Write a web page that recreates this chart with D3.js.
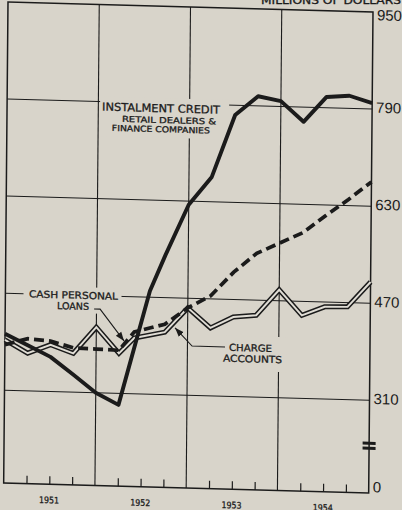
<!DOCTYPE html>
<html>
<head>
<meta charset="utf-8">
<script src="https://cdn.jsdelivr.net/npm/d3@7"></script>
<style>
  html, body { margin: 0; padding: 0; background: #d8d4ca; }
  svg { display: block; }
</style>
</head>
<body>
<svg></svg>
<script>
// x is counted in months from the start of 1951
let yearLabels = ['1951', '1952', '1953', '1954']
let yearLines = [12, 24, 36]
let quarterTicks = [3, 6, 9, 15, 18, 21, 27, 30, 33, 39, 42, 45]
let yTickValues = [950, 790, 630, 470, 310]
let axisFloor = 157   // bottom of the broken scale, printed as 0
let breakValue = 235  // where the "=" break mark sits

let instalmentMonths = [0, 3, 6, 9, 12, 15, 19, 21, 24, 27, 30, 33, 36, 39, 42, 45, 48]
let instalmentValues = [403, 385, 367, 339, 310, 291, 480, 540, 624, 671, 774, 806, 799, 766, 808, 811, 800]

let cashMonths = [0, 3, 6, 9, 12, 15, 17, 21, 24, 27, 30, 33, 36, 39, 42, 45, 48]
let cashValues = [385, 396, 393, 383, 382, 381, 412, 426, 454, 475, 515, 547, 565, 583, 612, 640, 670]

let chargeMonths = [0, 3, 6, 9, 12, 15, 17, 21, 24, 27, 30, 33, 36, 39, 42, 45, 48]
let chargeValues = [393, 372, 387, 374, 418, 376, 402, 413, 454, 422, 441, 445, 488, 447, 462, 463, 505]

const width = 402
const height = 510
const plotW = 365
const plotH = 481
const bg = '#d8d4ca'
const ink = '#1b1b1b'
const letterFont = 'DejaVu Sans, Verdana, sans-serif'

const svg = d3.select('svg')
svg.attr('width', width).attr('height', height)
svg.append('rect').attr('width', width).attr('height', height).attr('fill', bg)

svg.append('defs').append('marker')
    .attr('id', 'arrow')
    .attr('viewBox', '0 0 10 10')
    .attr('refX', 10).attr('refY', 5)
    .attr('markerWidth', 9).attr('markerHeight', 9)
    .attr('markerUnits', 'userSpaceOnUse')
    .attr('orient', 'auto')
    .append('path')
    .attr('d', 'M0,1.2 L10,5 L0,8.8 z')
    .attr('fill', ink)

// the printed sheet was scanned a bit crooked, so the whole plot is sheared
const page = svg.append('g').attr('transform', 'matrix(1, 0.0276, -0.009, 1, 8, 2)')

const xScale = d3.scaleLinear().domain([0, 48]).range([0, plotW])
const yScale = d3.scaleLinear().domain([axisFloor, 950]).range([plotH, 0])

// grid
page.selectAll('.hgrid')
    .data(yTickValues.slice(1))
    .enter()
    .append('line')
    .attr('x1', 0).attr('x2', plotW)
    .attr('y1', d => yScale(d)).attr('y2', d => yScale(d))
    .attr('stroke', ink).attr('stroke-width', 1)

page.selectAll('.vgrid')
    .data(yearLines)
    .enter()
    .append('line')
    .attr('x1', d => xScale(d)).attr('x2', d => xScale(d))
    .attr('y1', 0).attr('y2', plotH)
    .attr('stroke', ink).attr('stroke-width', 1.1)

// quarter ticks standing on the base line
page.append('g')
    .attr('transform', 'translate(0,' + plotH + ')')
    .call(d3.axisBottom(xScale).tickValues(quarterTicks).tickSize(-8).tickFormat(''))
    .call(g => g.select('.domain').remove())
    .selectAll('line')
    .attr('stroke', ink).attr('stroke-width', 1.2)

page.append('rect')
    .attr('width', plotW).attr('height', plotH)
    .attr('fill', 'none').attr('stroke', ink).attr('stroke-width', 1.5)

// label anchors, in data units
let inst = { x: xScale(20.25), y: yScale(782) }
let cash = { x: xScale(8.96), y: yScale(470) }
let charge = { x: xScale(32.3), y: yScale(391) }

// clear the grid under the labels
page.append('rect').attr('x', inst.x - 61).attr('y', inst.y - 10).attr('width', 129).attr('height', 39.5).attr('fill', bg)
page.append('rect').attr('x', cash.x - 50).attr('y', cash.y - 8).attr('width', 98).attr('height', 26).attr('fill', bg)
page.append('rect').attr('x', charge.x - 27.6).attr('y', charge.y - 11.7).attr('width', 64).attr('height', 35).attr('fill', bg)

// series
let line = d3.line()
    .x(d => xScale(d[0]))
    .y(d => yScale(d[1]))

let chargePath = line(d3.zip(chargeMonths, chargeValues))
page.append('path').attr('d', chargePath)
    .attr('fill', 'none').attr('stroke', ink).attr('stroke-width', 5)
    .attr('stroke-linejoin', 'miter')
page.append('path').attr('d', chargePath)
    .attr('fill', 'none').attr('stroke', '#e0ddd5').attr('stroke-width', 1.9)
    .attr('stroke-linejoin', 'miter')

page.append('path').attr('d', line(d3.zip(cashMonths, cashValues)))
    .attr('fill', 'none').attr('stroke', ink).attr('stroke-width', 3.7)
    .attr('stroke-dasharray', '10,5')

page.append('path').attr('d', line(d3.zip(instalmentMonths, instalmentValues)))
    .attr('fill', 'none').attr('stroke', ink).attr('stroke-width', 3.9)
    .attr('stroke-linejoin', 'round')

// break mark on the value axis
page.selectAll('.brk')
    .data([-4, 1])
    .enter()
    .append('rect')
    .attr('x', plotW - 6.5).attr('y', d => yScale(breakValue) + d)
    .attr('width', 13).attr('height', 3)
    .attr('fill', ink)

// value labels at the right
page.selectAll('.ylab')
    .data(yTickValues.concat([axisFloor]))
    .enter()
    .append('text')
    .attr('x', plotW + 4)
    .attr('y', d => yScale(d) + (d === 950 ? 8 : d === axisFloor ? -1 : 3.6))
    .attr('font-family', 'Liberation Sans, Arial, sans-serif')
    .attr('font-size', 15)
    .attr('fill', ink)
    .text(d => d === axisFloor ? '0' : d)

// years
page.selectAll('.year')
    .data(yearLabels)
    .enter()
    .append('text')
    .attr('x', (d, i) => xScale(6 + 12 * i))
    .attr('y', plotH + 19)
    .attr('text-anchor', 'middle')
    .attr('font-family', letterFont)
    .attr('font-size', 9)
    .attr('textLength', 20)
    .attr('lengthAdjust', 'spacingAndGlyphs')
    .attr('fill', ink)
    .attr('stroke', ink).attr('stroke-width', 0.3)
    .text(d => d)

let label = (x, y, text, size, len) => {
    page.append('text')
        .attr('x', x).attr('y', y)
        .attr('text-anchor', 'middle')
        .attr('font-family', letterFont)
        .attr('font-size', size)
        .attr('textLength', len)
        .attr('lengthAdjust', 'spacingAndGlyphs')
        .attr('fill', ink)
        .attr('stroke', ink).attr('stroke-width', 0.3)
        .text(text)
}

label(inst.x, inst.y + 4, 'INSTALMENT CREDIT', 11, 118)
label(inst.x + 8, inst.y + 14.8, 'RETAIL DEALERS &', 8.2, 94)
label(inst.x, inst.y + 24, 'FINANCE COMPANIES', 8.2, 98)

label(cash.x, cash.y + 3.5, 'CASH PERSONAL', 9.6, 89)
label(cash.x - 0.4, cash.y + 14.5, 'LOANS', 9.6, 32)

label(charge.x, charge.y + 3.5, 'CHARGE', 9.6, 43)
label(charge.x + 2.1, charge.y + 14.5, 'ACCOUNTS', 9.6, 59)

// leaders
page.append('path')
    .attr('d', 'M' + (cash.x + 20.7) + ',' + (cash.y + 13.4) + 'H' + (cash.x + 26.7) +
        'L' + (cash.x + 50.9) + ',' + (cash.y + 44.5))
    .attr('fill', 'none').attr('stroke', ink).attr('stroke-width', 1.1)
    .attr('marker-end', 'url(#arrow)')

page.append('path')
    .attr('d', 'M' + (charge.x - 25.5) + ',' + (charge.y - 0.2) + 'H' + (charge.x - 58.5) +
        'L' + (charge.x - 75.7) + ',' + (charge.y - 17.9))
    .attr('fill', 'none').attr('stroke', ink).attr('stroke-width', 1.1)
    .attr('marker-end', 'url(#arrow)')

// unit caption, cut off by the top edge like the scan
svg.append('text')
    .attr('x', 401).attr('y', 3.5)
    .attr('text-anchor', 'end')
    .attr('font-family', letterFont)
    .attr('font-size', 10)
    .attr('textLength', 140)
    .attr('lengthAdjust', 'spacingAndGlyphs')
    .attr('fill', ink)
    .attr('stroke', ink).attr('stroke-width', 0.3)
    .text('MILLIONS OF DOLLARS')
</script>
</body>
</html>
